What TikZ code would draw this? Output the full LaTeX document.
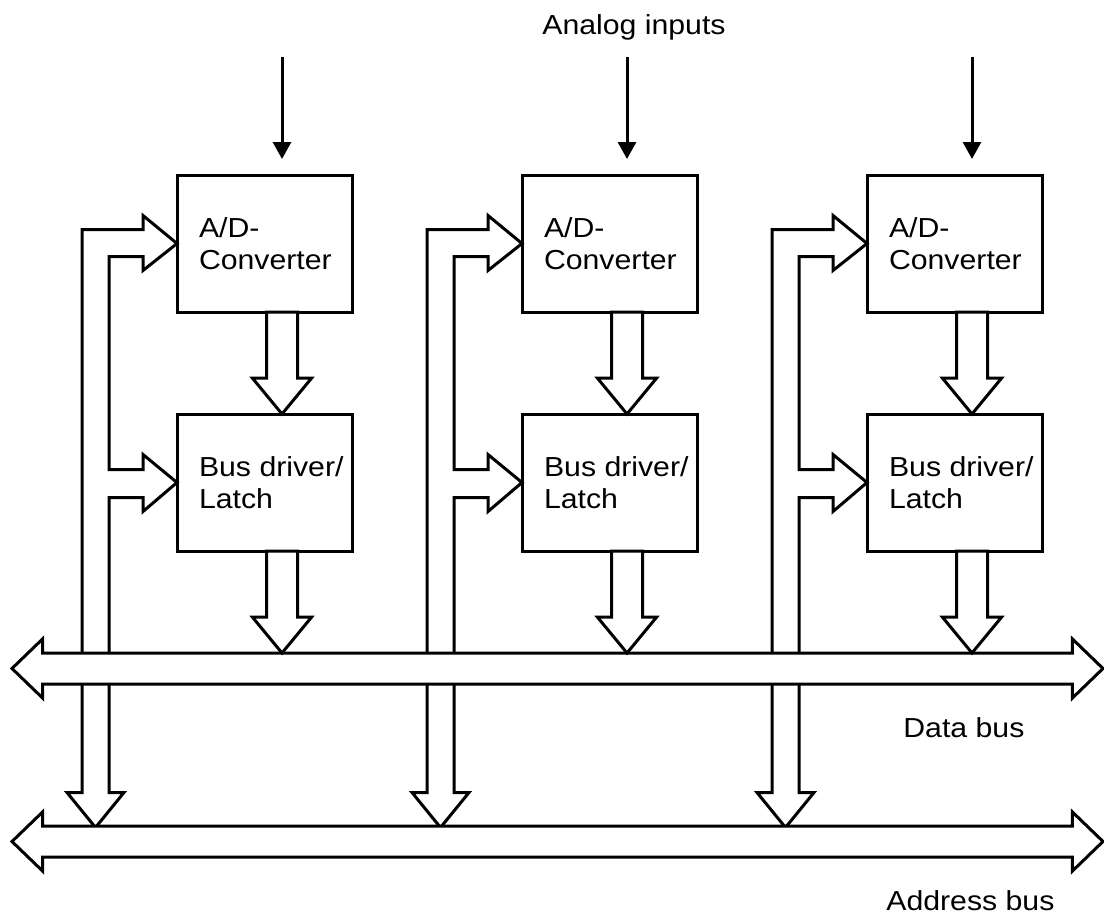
\documentclass[tikz,border=0pt]{standalone}
\usepackage{fontspec}
\setmainfont{Liberation Sans}[FakeStretch=1.1]
\usetikzlibrary{
  arrows.meta,
  shapes.arrows,
  positioning,
  calc,
}
\tikzstyle{block} = [
rectangle,
draw,
line width=3pt,
outer sep=0pt,
minimum width=175pt,
minimum height=137pt
]
\tikzstyle{blocktext} = [
align=left,
inner sep=0pt,
outer sep=0pt
]
\tikzstyle{fat} = [
single arrow,
draw,
fill=white,
line width=3pt,
inner sep=14pt,
outer sep=0pt,
single arrow head extend=14pt,
single arrow tip angle=79,
shape border rotate=270,
anchor=tail
]
\tikzstyle{bus} = [
double arrow,
draw,
fill=white,
line width=3pt,
inner sep=14pt,
outer sep=0pt,
double arrow head extend=14pt,
double arrow tip angle=88,
minimum height=1091pt
]
\tikzstyle{feed} = [draw, line width=3pt]
\tikzstyle{arrow} = [draw, line width=3pt, -{Triangle[width=18pt,length=17pt]}]

\begin{document}
\begin{tikzpicture}[x=1pt, y=-1pt, node distance=102pt and 170pt,
  font=\fontsize{27.5}{32}\selectfont]
  \useasboundingbox (0,0) rectangle (1104,916);

  % Place nodes
  \node [block] (ad1) at (264.5,243.5) {};
  \node [block, right=of ad1] (ad2) {};
  \node [block, right=of ad2] (ad3) {};

  \node [block, below=of ad1] (bd1) {};
  \node [block, below=of ad2] (bd2) {};
  \node [block, below=of ad3] (bd3) {};

  % Feed lines from the address bus
  \foreach \n in {1,2,3} {
    \path [feed] (ad\n.west) -- ++(-34,-28) -- ++(0,14) -- ++(-61,0)
      -- ++(0,563) -- ++(-15,0) -- ++(28.5,35) -- ++(28.5,-35) -- ++(-15,0)
      -- ++(0,-295) -- ++(34,0) -- ++(0,14) -- (bd\n.west)
      -- ++(-34,-28) -- ++(0,15) -- ++(-34,0) -- ++(0,-213)
      -- ++(34,0) -- ++(0,14) -- cycle;
  }

  % Buses
  \node [bus] (databus) at (557.5,668.5) {};
  \node [bus] (addrbus) at (557.5,841.5) {};

  \node [anchor=base east] (datalabel) at (1028,737) {Data bus};
  \node [anchor=base east] (addrlabel) at (1058,910) {Address bus};

  % Converter to driver to data bus
  \foreach \n in {1,2,3} {
    \node [fat, minimum height=102pt] (conv\n) at ($(ad\n.south west)+(105,0)$) {};
    \node [fat, minimum height=102pt] (drive\n) at ($(bd\n.south west)+(105,0)$) {};

    \node [blocktext, anchor=west, right=22pt of ad\n.west] (adtext\n) {A/D-\\Converter};
    \node [blocktext, anchor=west, right=22pt of bd\n.west] (bdtext\n) {Bus driver/\\Latch};

    \coordinate (in\n) at ($(ad\n.north west)+(105,-118)$);
    \path [arrow, shorten >=16pt] (in\n) -- (in\n |- ad\n.north);
  }

  \node [anchor=base] (analog) at ($(in2)+(7,-23)$) {Analog inputs};

\end{tikzpicture}
\end{document}
